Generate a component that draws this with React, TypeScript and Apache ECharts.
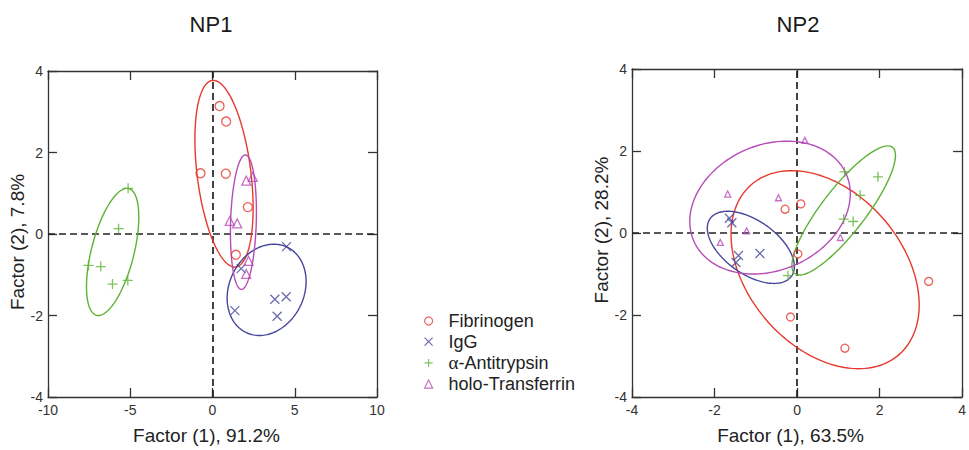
import React, { useEffect, useRef } from "react";
import * as echarts from "echarts";

// ---------- data ----------
const GROUPS = ["Fibrinogen", "IgG", "α-Antitrypsin", "holo-Transferrin"];
const COLORS = ["#e63a2e", "#46469a", "#5fb236", "#b64db6"];
const TITLES = ["NP1", "NP2"];
const X_NAMES = ["Factor (1), 91.2%", "Factor (1), 63.5%"];
const Y_NAMES = ["Factor (2), 7.8%", "Factor (2), 28.2%"];
const X_RANGES = [[-10, 10, 5], [-4, 4, 2]];
const Y_RANGES = [[-4, 4, 2], [-4, 4, 2]];

// NP1 scores
const np1Fibrinogen = [[0.43, 3.14], [0.83, 2.76], [-0.73, 1.49], [0.81, 1.48], [2.15, 0.66], [1.42, -0.51]];
const np1IgG = [[4.5, -0.31], [1.74, -0.85], [1.36, -1.88], [3.79, -1.6], [4.48, -1.54], [3.93, -2.02]];
const np1Antitrypsin = [[-5.13, 1.12], [-5.71, 0.13], [-7.54, -0.77], [-6.79, -0.8], [-6.08, -1.23], [-5.15, -1.14]];
const np1Transferrin = [[2.05, 1.31], [2.45, 1.4], [1.05, 0.32], [1.5, 0.26], [2.19, -0.66], [2.05, -0.98]];

// NP2 scores
const np2Fibrinogen = [[-0.29, 0.58], [0.09, 0.71], [0.02, -0.51], [3.19, -1.18], [-0.16, -2.05], [1.16, -2.81]];
const np2IgG = [[-1.64, 0.36], [-1.58, 0.25], [-1.42, -0.55], [-0.9, -0.5], [-1.48, -0.72]];
const np2Antitrypsin = [[1.15, 1.49], [1.96, 1.37], [1.53, 0.92], [1.13, 0.34], [1.36, 0.28], [-0.22, -1.04]];
const np2Transferrin = [[0.19, 2.26], [-1.68, 0.95], [-0.45, 0.86], [-1.22, 0.05], [-1.86, -0.23], [1.05, -0.11]];

// confidence ellipses: [centerX, centerY, halfWidth, halfHeight, xOfTopmostPoint]
const np1Ellipses = [
  [0.7, 1.48, 1.77, 2.29, 0.05],
  [3.29, -1.37, 2.4, 1.12, 3.73],
  [-6.07, -0.44, 1.59, 1.56, -5.2],
  [1.88, 0.29, 0.79, 1.65, 2.0],
];
const np2Ellipses = [
  [0.68, -0.895, 2.28, 2.415, -0.13],
  [-1.12, -0.35, 1.055, 0.88, -1.68],
  [1.13, 0.55, 1.255, 1.575, 2.2],
  [-0.655, 0.62, 1.945, 1.62, -0.25],
];

const PANELS = [
  [np1Fibrinogen, np1IgG, np1Antitrypsin, np1Transferrin],
  [np2Fibrinogen, np2IgG, np2Antitrypsin, np2Transferrin],
];
const ELLIPSES = [np1Ellipses, np2Ellipses];

// ---------- styling ----------
const FONT = "'Liberation Sans', Arial, Helvetica, sans-serif";
const SYMBOLS = [
  "circle",
  "path://M0,0L10,10M10,0L0,10",
  "path://M5,0L5,10M0,5L10,5",
  "triangle",
];
const SYMBOL_SIZES = [
  [9, 9, 10, 9],
  [8, 9, 10, 6],
];
const GRIDS = [
  { left: 48, top: 71, width: 329, height: 331 },
  { left: 632, top: 69, width: 334, height: 335 },
];
const TITLE_X = [211, 798];
const X_NAME_PADDING = [
  [0, 12, 0, 0],
  [0, 13, 0, 0],
];
const Y_NAME_PADDING = [
  [0, 16, 0, 0],
  [0, 0, 0, 6],
];
const AXIS_COLOR = "#333";

export default function App() {
  const ref = useRef<HTMLDivElement>(null);

  useEffect(() => {
    if (!ref.current) return;
    const chart = echarts.init(ref.current, undefined, { renderer: "svg" });

    const xAxes: any[] = [];
    const yAxes: any[] = [];
    const series: any[] = [];

    PANELS.forEach((groups, p) => {
      const [xmin, xmax, xint] = X_RANGES[p];
      const [ymin, ymax, yint] = Y_RANGES[p];
      const baseAxis = {
        type: "value",
        gridIndex: p,
        axisLine: { show: true, onZero: false, lineStyle: { color: AXIS_COLOR, width: 1.3 } },
        axisTick: { show: true, inside: true, length: 9, lineStyle: { color: AXIS_COLOR, width: 1.3 } },
        splitLine: { show: false },
      };
      xAxes.push({
        ...baseAxis,
        position: "bottom",
        min: xmin,
        max: xmax,
        interval: xint,
        axisLabel: { color: AXIS_COLOR, fontSize: 14, fontFamily: FONT, margin: 6 },
        name: X_NAMES[p],
        nameLocation: "middle",
        nameGap: 29,
        nameTextStyle: { color: "#222", fontSize: 19, fontFamily: FONT, padding: X_NAME_PADDING[p] },
      });
      xAxes.push({
        ...baseAxis,
        position: "top",
        min: xmin,
        max: xmax,
        interval: xint,
        axisLabel: { show: false },
      });
      yAxes.push({
        ...baseAxis,
        position: "left",
        min: ymin,
        max: ymax,
        interval: yint,
        axisLabel: { color: AXIS_COLOR, fontSize: 14, fontFamily: FONT, margin: 5 },
        name: Y_NAMES[p],
        nameLocation: "middle",
        nameGap: 20,
        nameTextStyle: { color: "#222", fontSize: 19, fontFamily: FONT, padding: Y_NAME_PADDING[p] },
      });
      yAxes.push({
        ...baseAxis,
        position: "right",
        min: ymin,
        max: ymax,
        interval: yint,
        axisLabel: { show: false },
      });

      const xi = p * 2;
      const yi = p * 2;

      // ellipses
      series.push({
        type: "custom",
        name: "ellipses-" + TITLES[p],
        xAxisIndex: xi,
        yAxisIndex: yi,
        silent: true,
        data: ELLIPSES[p].map((e, g) => [...e, g]),
        encode: { x: 0, y: 1 },
        renderItem: (_params: any, api: any) => {
          const cx = api.value(0);
          const cy = api.value(1);
          const rx = api.value(2);
          const ry = api.value(3);
          const tx = api.value(4);
          const g = api.value(5);
          const ux = tx - cx;
          const uy = ry;
          const h = Math.sqrt(Math.max(rx * rx - ux * ux, 0));
          const pts: number[][] = [];
          const N = 160;
          for (let i = 0; i <= N; i++) {
            const t = (i / N) * Math.PI * 2;
            pts.push(api.coord([cx + Math.cos(t) * ux + Math.sin(t) * h, cy + Math.cos(t) * uy]));
          }
          return {
            type: "polyline",
            shape: { points: pts },
            style: { fill: "none", stroke: COLORS[g], lineWidth: 1.4 },
          };
        },
        z: 2,
      });

      // scatter points
      groups.forEach((pts, g) => {
        const s: any = {
          type: "scatter",
          name: GROUPS[g],
          xAxisIndex: xi,
          yAxisIndex: yi,
          data: pts,
          symbol: SYMBOLS[g],
          symbolSize: SYMBOL_SIZES[p][g],
          itemStyle: { color: "transparent", borderColor: COLORS[g], borderWidth: 1.3 },
          z: 3,
        };
        if (g === 0) {
          s.markLine = {
            silent: true,
            symbol: "none",
            label: { show: false },
            lineStyle: { type: [7, 4], color: "#222", width: 1.7 },
            data: [{ xAxis: 0 }, { yAxis: 0 }],
            z: 1,
          };
        }
        series.push(s);
      });
    });

    chart.setOption({
      animation: false,
      backgroundColor: "#fff",
      textStyle: { fontFamily: FONT },
      title: TITLES.map((t, i) => ({
        text: t,
        left: TITLE_X[i] - 5,
        top: 8,
        textAlign: "center",
        textStyle: { fontSize: 22, fontWeight: "normal", color: "#1a1a1a", fontFamily: FONT },
      })),
      grid: GRIDS.map((g) => ({ ...g, containLabel: false })),
      xAxis: xAxes,
      yAxis: yAxes,
      legend: {
        orient: "vertical",
        left: 419,
        top: 307,
        itemWidth: 8,
        itemHeight: 8,
        itemGap: 2.7,
        symbolKeepAspect: true,
        selectedMode: false,
        data: GROUPS.map((name, g) => ({
          name,
          icon: SYMBOLS[g],
          itemStyle: { color: "transparent", borderColor: COLORS[g], borderWidth: 1.2 },
        })),
        formatter: (name: string) => (name.startsWith("α") ? "{g|α}" + name.slice(1) : name),
        textStyle: {
          fontSize: 18,
          lineHeight: 18,
          color: "#222",
          fontFamily: FONT,
          padding: [0, 0, 0, 11],
          rich: { g: { fontFamily: "'Liberation Serif', 'DejaVu Serif', serif", fontSize: 19, color: "#222" } },
        },
      },
      series,
    });

    return () => chart.dispose();
  }, []);

  return (
    <div
      ref={ref}
      style={{ position: "fixed", left: 0, top: 0, width: 969, height: 450, background: "#fff" }}
    />
  );
}
